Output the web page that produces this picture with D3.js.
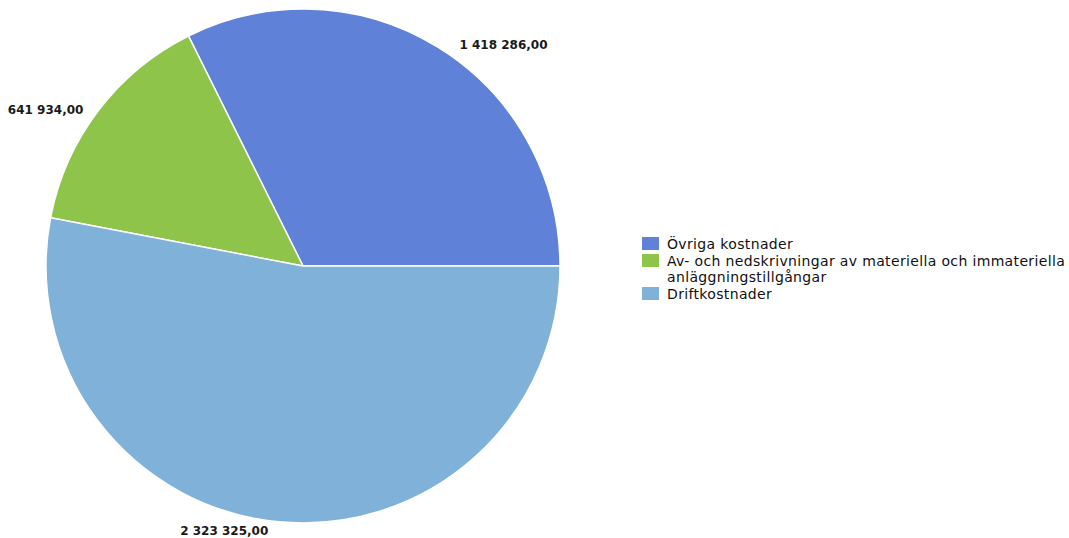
<!DOCTYPE html>
<html>
<head>
<meta charset="utf-8">
<script src="https://cdn.jsdelivr.net/npm/d3@7"></script>
<style>
  body { margin: 0; background: #fff; }
  svg { display: block; }
</style>
</head>
<body>
<svg id="chart" width="1069" height="538"></svg>
<script>
// data
var categories = ["Övriga kostnader", "Av- och nedskrivningar av materiella och immateriella anläggningstillgångar", "Driftkostnader"];
var values = [1418286, 641934, 2323325];
var valueLabels = ["1 418 286,00", "641 934,00", "2 323 325,00"];
var legendLines = [["Övriga kostnader"], ["Av- och nedskrivningar av materiella och immateriella", "anläggningstillgångar"], ["Driftkostnader"]];
var colors = ["#5f81d7", "#8dc449", "#80b1d9"];

var svg = d3.select("#chart");
var cx = 303, cy = 266, r = 257;

// slices go counter-clockwise from 3 o'clock
var pie = d3.pie()
    .sort(null)
    .startAngle(Math.PI / 2)
    .endAngle(Math.PI / 2 - 2 * Math.PI);

var arcs = pie(values);
var arc = d3.arc().innerRadius(0).outerRadius(r);
var labelArc = d3.arc().innerRadius(r + 6).outerRadius(r + 6);

var g = svg.append("g").attr("transform", "translate(" + cx + "," + cy + ")");

g.selectAll("path.slice")
    .data(arcs)
    .enter().append("path")
    .attr("class", "slice")
    .attr("d", arc)
    .attr("fill", function(d, i) { return colors[i]; })
    .attr("stroke", "#fff")
    .attr("stroke-width", 1.5)
    .attr("stroke-linejoin", "round");

g.selectAll("text.val")
    .data(arcs)
    .enter().append("text")
    .attr("class", "val")
    .attr("transform", function(d) {
        var p = labelArc.centroid(d);
        var right = p[0] > 0;
        return "translate(" + (p[0] + (right ? 18 : -10)) + "," + (p[1] + 7) + ")";
    })
    .attr("text-anchor", function(d) { return labelArc.centroid(d)[0] > 0 ? "start" : "end"; })
    .attr("font-family", "DejaVu Sans")
    .attr("font-weight", "bold")
    .attr("font-size", 12)
    .attr("fill", "#1a1a1a")
    .text(function(d, i) { return valueLabels[i]; });

// legend
var legend = svg.append("g").attr("transform", "translate(642,237)");
var y = 0;
legendLines.forEach(function(lines, i) {
    var item = legend.append("g").attr("transform", "translate(0," + y + ")");
    item.append("rect")
        .attr("width", 17)
        .attr("height", 13)
        .attr("fill", colors[i]);
    lines.forEach(function(line, j) {
        item.append("text")
            .attr("x", 25)
            .attr("y", 12 + j * 16)
            .attr("font-family", "DejaVu Sans")
            .attr("font-size", 14)
            .attr("letter-spacing", 0.35)
            .attr("fill", "#111")
            .text(line);
    });
    y += 17 + (lines.length - 1) * 16;
});
</script>
</body>
</html>
